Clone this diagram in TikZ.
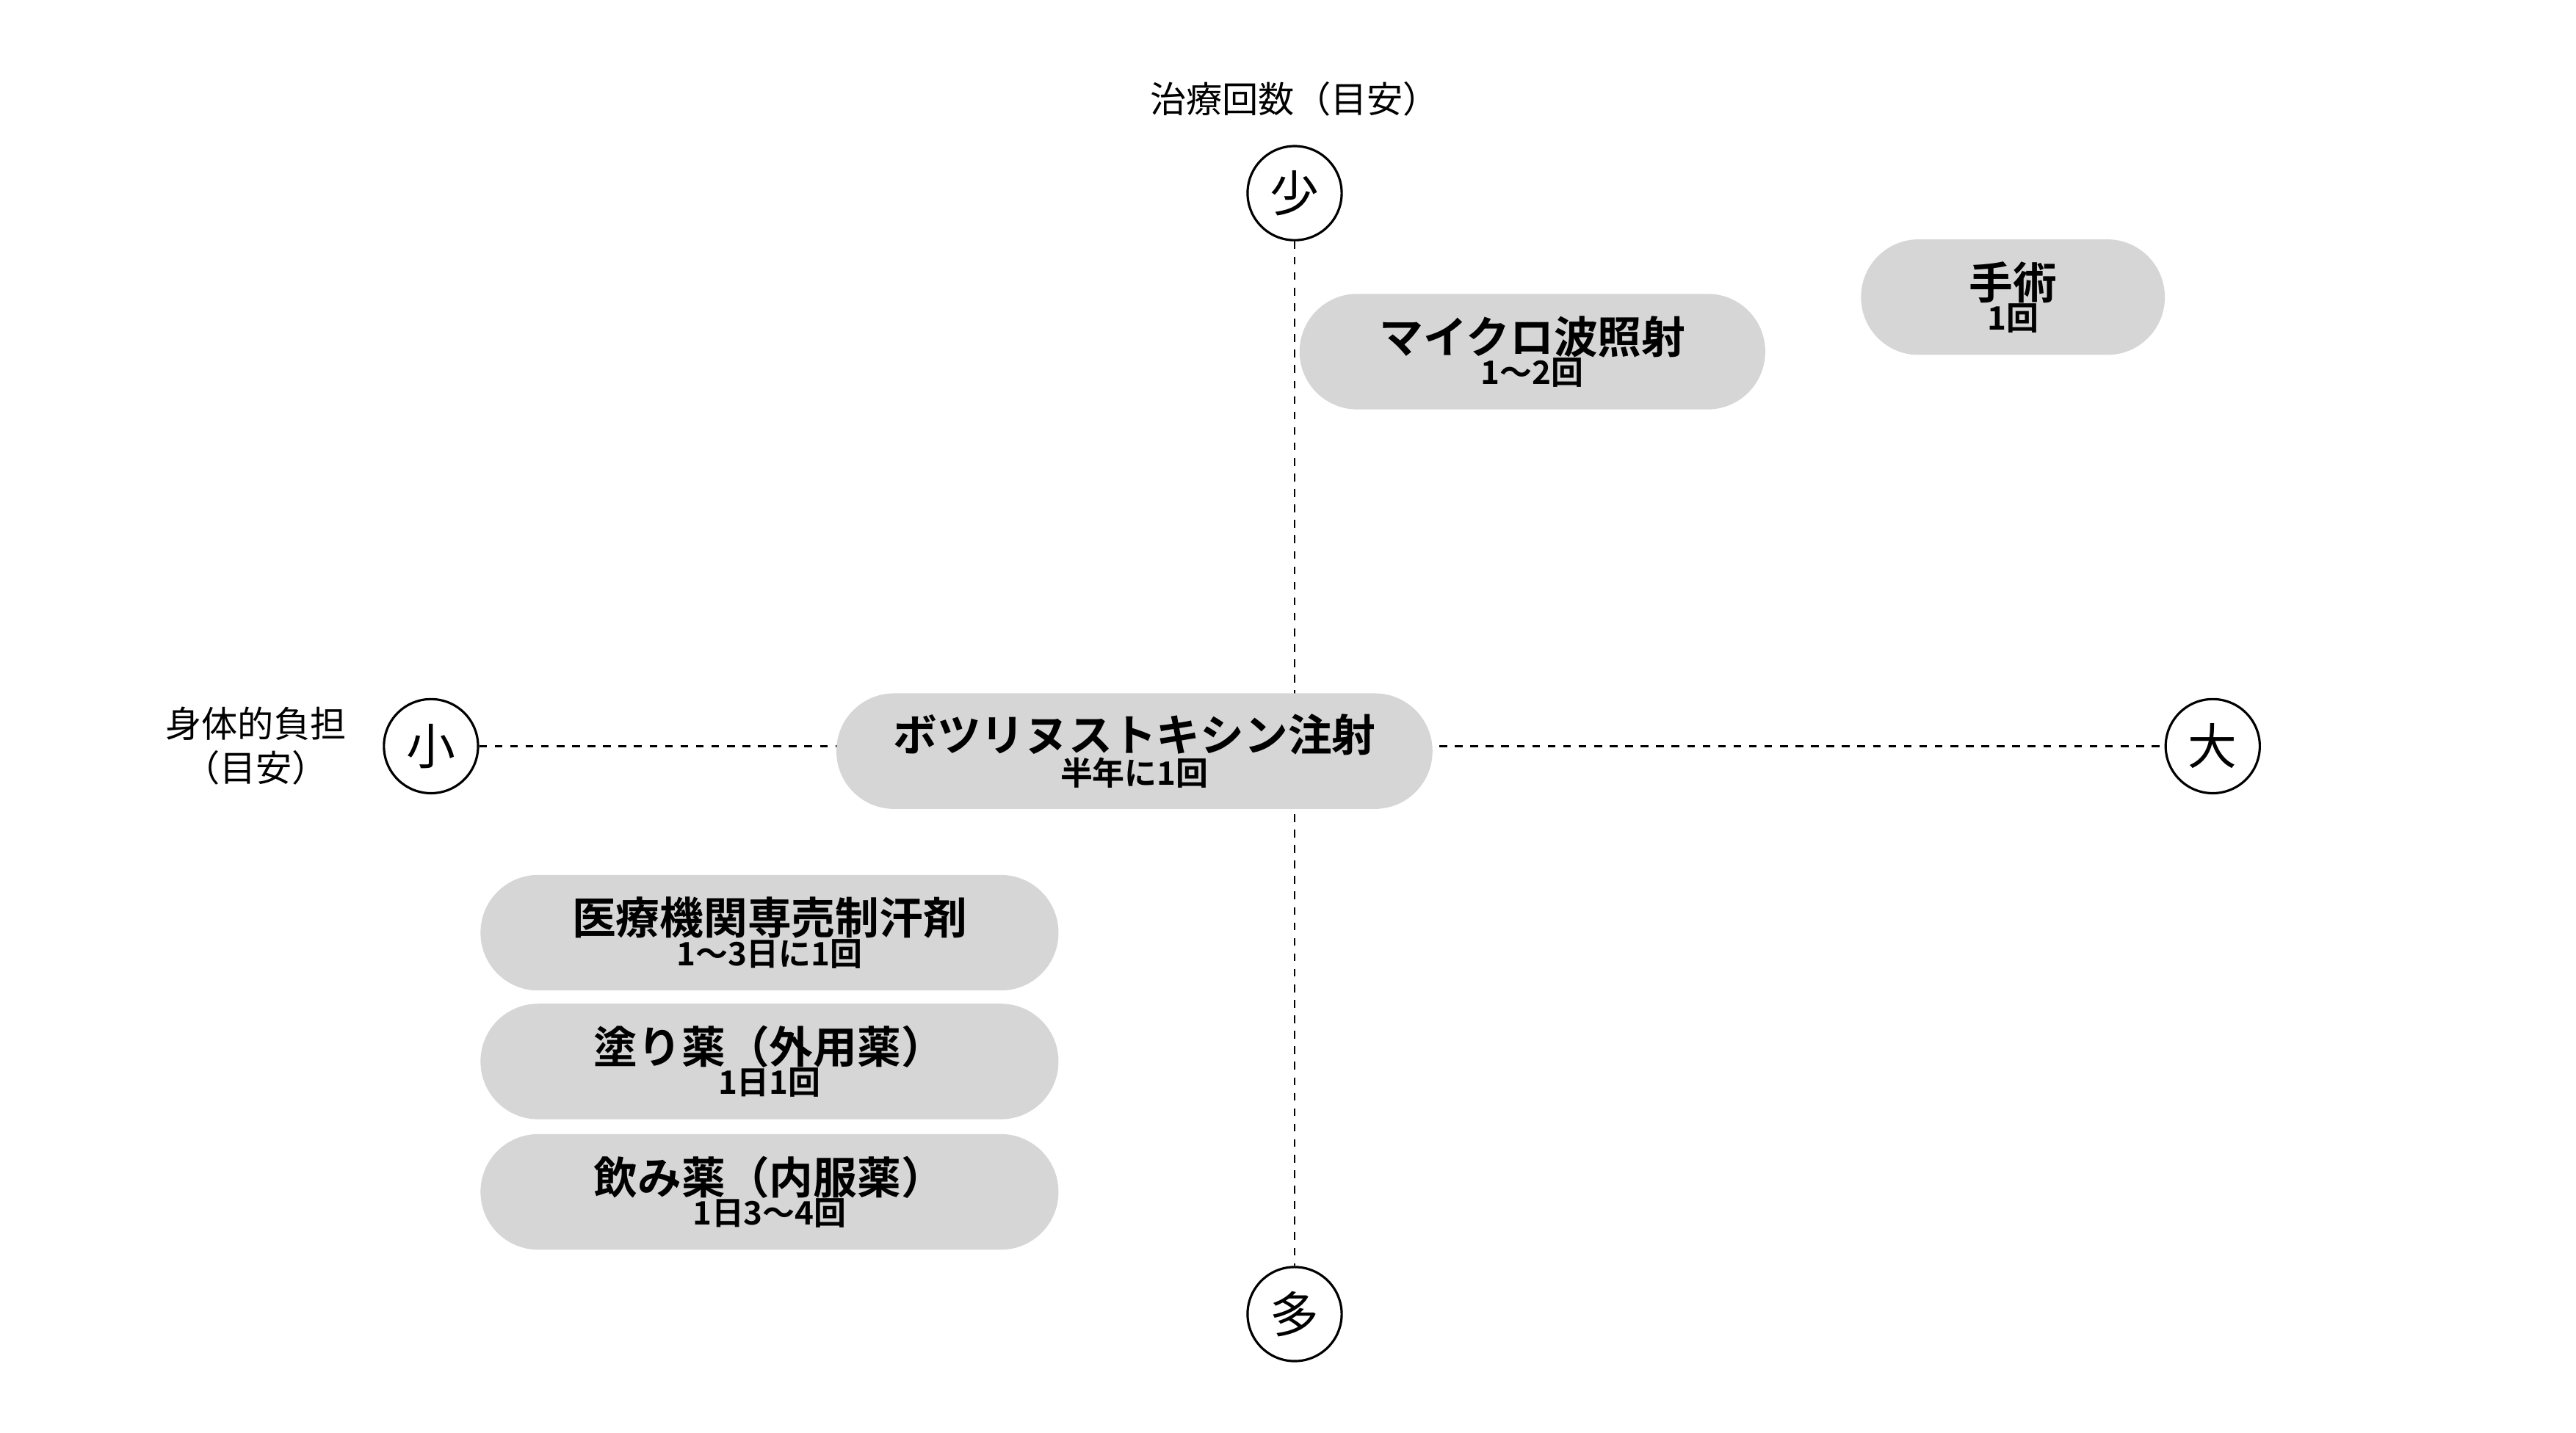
\documentclass[tikz,border=0pt]{standalone}
\usepackage{fontspec}
\setmainfont{Noto Sans CJK JP}
\newfontfamily\jpb{Noto Sans CJK JP Bold}
\begin{document}
\begin{tikzpicture}[x=0.22487mm,y=-0.22487mm,
  pill/.style={fill=black!16,rounded corners=7.85mm,minimum height=70*0.22487mm,inner sep=0pt,align=center},
  ax/.style={circle,draw,line width=0.9pt,fill=white,minimum size=57*0.22487mm,inner sep=0pt,font=\fontsize{19}{19}\selectfont},
  dl/.style={dashed,line width=0.8pt},
  lab/.style={font=\fontsize{14}{17}\selectfont,align=center}]
\useasboundingbox (0,0) rectangle (1560,868);
\node[ax] (top) at (784,117) {少};
\node[ax] (bot) at (784,796) {多};
\node[ax] (lft) at (261,452) {小};
\node[ax] (rgt) at (1340,452) {大};
\draw[dl] (top) -- (bot);
\draw[dl] (lft) -- (rgt);
\node[lab] (tl) at (784,60) {治療回数（目安）};
\node[lab] (ll) at (155,452) {身体的負担\\（目安）};
\newcommand{\pt}[2]{{\jpb\fontsize{17}{20}\selectfont #1}\\{\jpb\fontsize{12.5}{18}\selectfont #2}}
\node[pill,minimum width=282*0.22487mm] (mw) at (928,213) {\pt{マイクロ波照射}{1〜2回}};
\node[pill,minimum width=184*0.22487mm] (op) at (1219,180) {\pt{手術}{1回}};
\node[pill,minimum width=361*0.22487mm] (bt) at (687,455) {\pt{ボツリヌストキシン注射}{半年に1回}};
\node[pill,minimum width=350*0.22487mm] (a1) at (466,565) {\pt{医療機関専売制汗剤}{1〜3日に1回}};
\node[pill,minimum width=350*0.22487mm] (a2) at (466,643) {\pt{塗り薬（外用薬）}{1日1回}};
\node[pill,minimum width=350*0.22487mm] (a3) at (466,722) {\pt{飲み薬（内服薬）}{1日3〜4回}};
\end{tikzpicture}
\end{document}
